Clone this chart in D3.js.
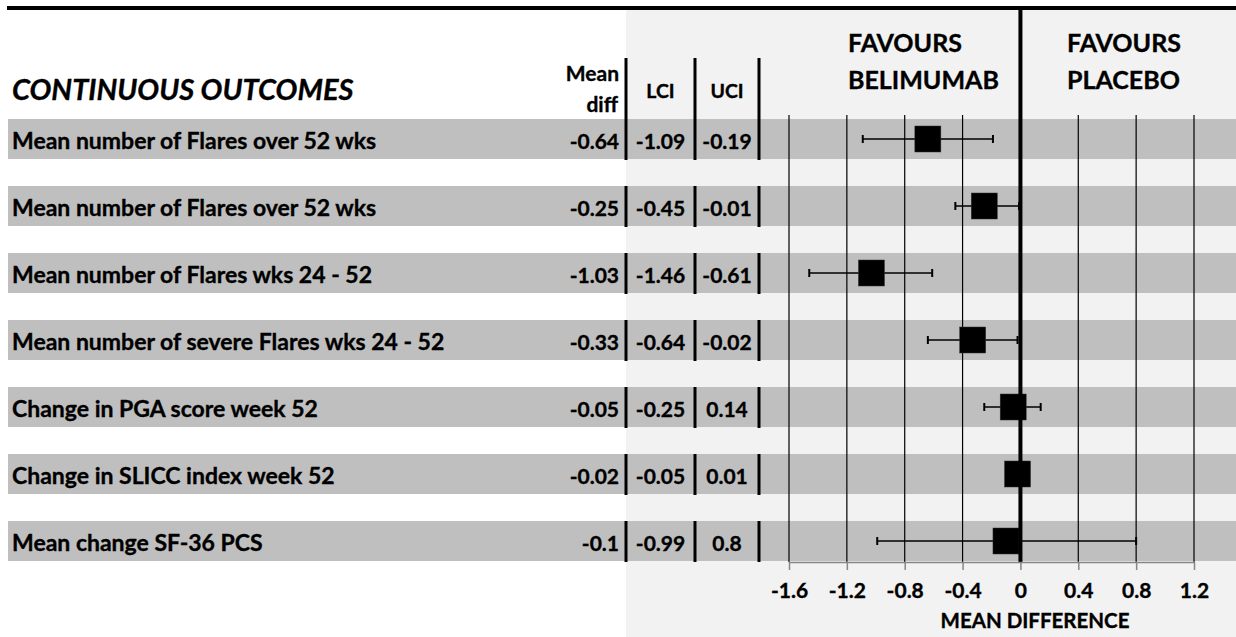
<!DOCTYPE html>
<html>
<head>
<meta charset="utf-8">
<script src="https://cdn.jsdelivr.net/npm/d3@7"></script>
<style>
  html, body { margin: 0; padding: 0; background: #ffffff; }
  svg { display: block; }
  text { font-family: Lato, "Open Sans", sans-serif; font-weight: bold; fill: #000; stroke: #000; stroke-width: 0.35px; }
</style>
</head>
<body>
<svg id="chart" width="1236" height="637"></svg>
<script>
// Outcomes and their mean differences with 95% confidence limits
const outcomes = [
  "Mean number of Flares over 52 wks",
  "Mean number of Flares over 52 wks",
  "Mean number of Flares wks 24 - 52",
  "Mean number of severe Flares wks 24 - 52",
  "Change in PGA score week 52",
  "Change in SLICC index week 52",
  "Mean change SF-36 PCS"
];
const meanDiff = [-0.64, -0.25, -1.03, -0.33, -0.05, -0.02, -0.1];
const lci      = [-1.09, -0.45, -1.46, -0.64, -0.25, -0.05, -0.99];
const uci      = [-0.19, -0.01, -0.61, -0.02,  0.14,  0.01,  0.8];
const tickValues = [-1.6, -1.2, -0.8, -0.4, 0, 0.4, 0.8, 1.2];

const W = 1236, H = 637;
const svg = d3.select("#chart");

const x = d3.scaleLinear().domain([-1.6, 1.2]).range([789, 1194]);
const y = d3.scaleBand()
  .domain(d3.range(outcomes.length))
  .range([119, 561])
  .paddingInner(27 / 67)
  .paddingOuter(0);

const panelLeft = 626;            // start of shaded table/plot panel
const colSeps = [626, 695, 759];  // column separators for LCI / UCI
const axisY = 562;

// shaded panel behind the numeric columns and the plot
svg.append("rect")
  .attr("x", panelLeft).attr("y", 10)
  .attr("width", W - panelLeft).attr("height", H - 10)
  .attr("fill", "#f2f2f2");

// row bands
svg.selectAll("rect.band")
  .data(outcomes)
  .join("rect")
  .attr("class", "band")
  .attr("x", 8)
  .attr("y", (d, i) => y(i))
  .attr("width", W - 8)
  .attr("height", y.bandwidth())
  .attr("fill", "#bfbfbf");

// top rule
svg.append("rect")
  .attr("x", 7).attr("y", 6)
  .attr("width", W - 7).attr("height", 4)
  .attr("fill", "#000");

// vertical gridlines
svg.selectAll("line.grid")
  .data(tickValues.filter(t => t !== 0))
  .join("line")
  .attr("class", "grid")
  .attr("x1", d => x(d)).attr("x2", d => x(d))
  .attr("y1", 115).attr("y2", axisY)
  .attr("stroke", "#000")
  .attr("stroke-width", 1.2);

// title
svg.append("text")
  .attr("x", 12).attr("y", 100)
  .style("font-size", "29px")
  .style("font-style", "italic")
  .text("CONTINUOUS OUTCOMES");

// column headers
const hdr = svg.append("g");
hdr.append("text").attr("x", 619).attr("y", 81).attr("text-anchor", "end")
  .style("font-size", "21px").text("Mean");
hdr.append("text").attr("x", 618).attr("y", 112).attr("text-anchor", "end")
  .style("font-size", "21px").text("diff");
hdr.append("text").attr("x", (colSeps[0] + colSeps[1]) / 2).attr("y", 98)
  .attr("text-anchor", "middle").style("font-size", "19.5px").text("LCI");
hdr.append("text").attr("x", (colSeps[1] + colSeps[2]) / 2).attr("y", 98)
  .attr("text-anchor", "middle").style("font-size", "19.5px").text("UCI");

// direction headers
const fav = svg.append("g").style("font-size", "25px");
fav.append("text").attr("x", 848).attr("y", 52).text("FAVOURS");
fav.append("text").attr("x", 848).attr("y", 89).text("BELIMUMAB");
fav.append("text").attr("x", 1067).attr("y", 52).text("FAVOURS");
fav.append("text").attr("x", 1067).attr("y", 89).text("PLACEBO");

// column separators: header part and per-row parts
colSeps.forEach(sx => {
  svg.append("line")
    .attr("x1", sx).attr("x2", sx)
    .attr("y1", 58).attr("y2", y(0))
    .attr("stroke", "#000").attr("stroke-width", 3);
});
const rows = svg.selectAll("g.row")
  .data(outcomes.map((name, i) => ({ name, i, m: meanDiff[i], lo: lci[i], hi: uci[i] })))
  .join("g")
  .attr("class", "row");

rows.each(function (d) {
  const g = d3.select(this);
  const cy = y(d.i) + y.bandwidth() / 2;
  colSeps.forEach(sx => {
    g.append("line")
      .attr("x1", sx).attr("x2", sx)
      .attr("y1", y(d.i)).attr("y2", y(d.i) + y.bandwidth() + 1)
      .attr("stroke", "#000").attr("stroke-width", 3);
  });
  g.append("text").attr("x", 12).attr("y", cy + 10)
    .style("font-size", "23px").text(d.name);
  g.append("text").attr("x", 619).attr("y", cy + 10)
    .attr("text-anchor", "end").style("font-size", "21px").text(String(d.m));
  g.append("text").attr("x", (colSeps[0] + colSeps[1]) / 2).attr("y", cy + 10)
    .attr("text-anchor", "middle").style("font-size", "21px").text(String(d.lo));
  g.append("text").attr("x", (colSeps[1] + colSeps[2]) / 2).attr("y", cy + 10)
    .attr("text-anchor", "middle").style("font-size", "21px").text(String(d.hi));
});

// confidence interval whiskers
rows.append("line")
  .attr("x1", d => x(d.lo)).attr("x2", d => x(d.hi))
  .attr("y1", d => y(d.i) + y.bandwidth() / 2)
  .attr("y2", d => y(d.i) + y.bandwidth() / 2)
  .attr("stroke", "#000").attr("stroke-width", 1.5);
["lo", "hi"].forEach(k => {
  rows.append("line")
    .attr("x1", d => x(d[k])).attr("x2", d => x(d[k]))
    .attr("y1", d => y(d.i) + y.bandwidth() / 2 - 4)
    .attr("y2", d => y(d.i) + y.bandwidth() / 2 + 4)
    .attr("stroke", "#000").attr("stroke-width", 2);
});

// point estimates
const sq = 26;
rows.append("rect")
  .attr("x", d => x(d.m) - sq / 2)
  .attr("y", d => y(d.i) + y.bandwidth() / 2 - sq / 2)
  .attr("width", sq).attr("height", sq)
  .attr("fill", "#000")
  .attr("stroke", "#333").attr("stroke-width", 0.5);

// line of no effect
svg.append("line")
  .attr("x1", x(0)).attr("x2", x(0))
  .attr("y1", 10).attr("y2", axisY)
  .attr("stroke", "#000").attr("stroke-width", 4);

// x axis
const axis = svg.append("g")
  .attr("transform", `translate(0,${axisY})`)
  .call(d3.axisBottom(x).tickValues(tickValues).tickSize(8).tickSizeOuter(0)
    .tickFormat(d => String(d)));
axis.select(".domain").attr("stroke", "#868686").attr("stroke-width", 1.5);
axis.selectAll(".tick line").attr("stroke", "#868686").attr("stroke-width", 1.5);
axis.selectAll(".tick text")
  .attr("y", 36).attr("dy", 0)
  .style("font-family", "Lato, 'Open Sans', sans-serif")
  .style("font-weight", "bold")
  .style("font-size", "21px")
  .attr("fill", "#000")
  .attr("stroke", "#000").attr("stroke-width", 0.35);

svg.append("text")
  .attr("x", 1035).attr("y", 628)
  .attr("text-anchor", "middle")
  .style("font-size", "20.5px")
  .text("MEAN DIFFERENCE");
</script>
</body>
</html>
